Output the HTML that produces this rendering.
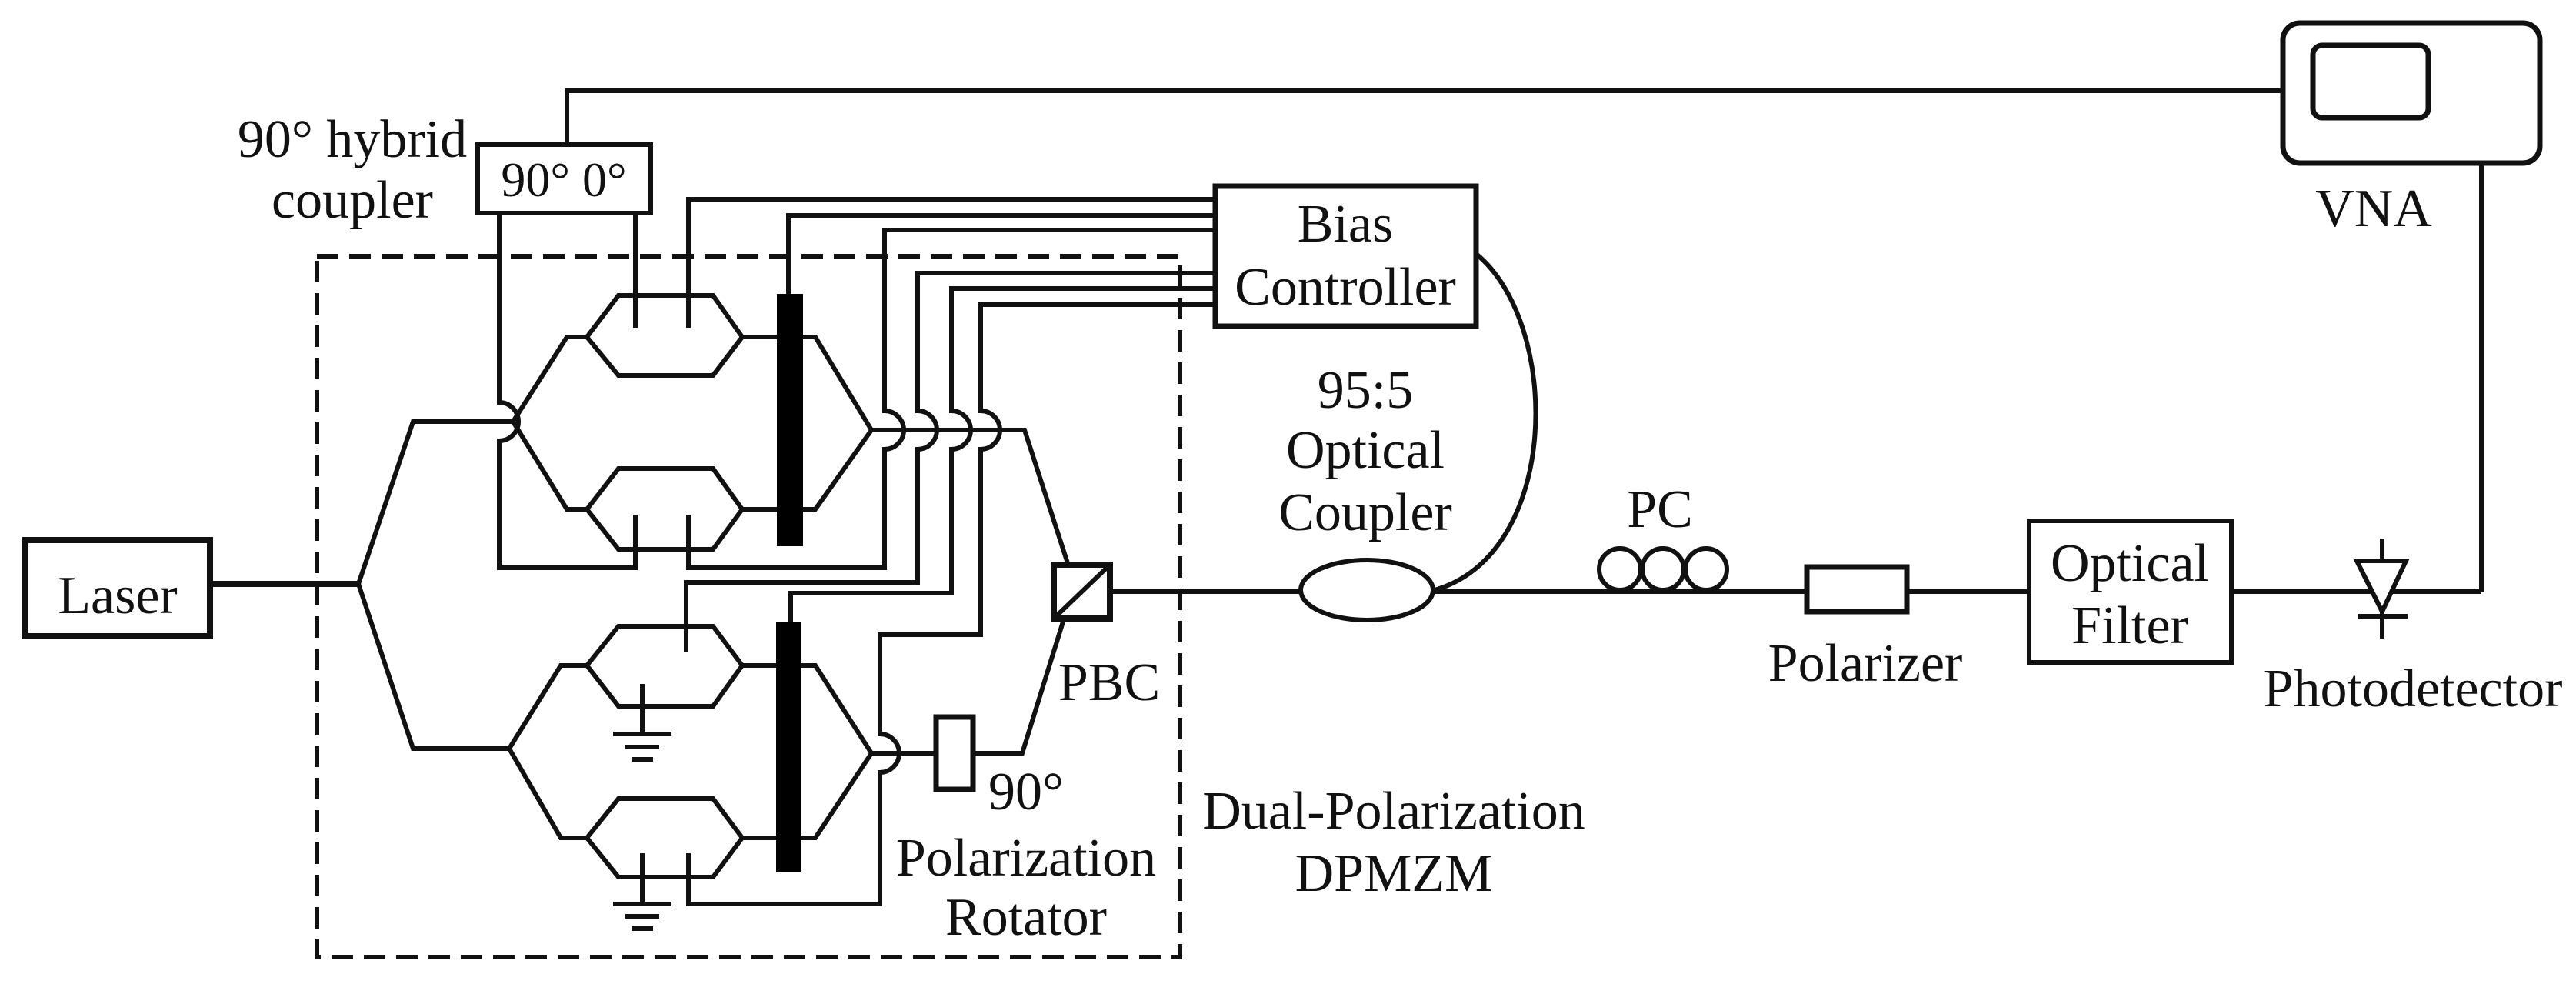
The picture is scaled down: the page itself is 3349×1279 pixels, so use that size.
<!DOCTYPE html>
<html><head><meta charset="utf-8"><style>
html,body{margin:0;padding:0;background:#fff;}
svg{display:block;}
svg text{font-family:"Liberation Serif","Times New Roman","DejaVu Serif",serif;font-size:70px;fill:#111;}
</style></head><body>
<svg width="3349" height="1279" viewBox="0 0 3349 1279" xmlns="http://www.w3.org/2000/svg" font-family="Liberation Serif, Times New Roman, DejaVu Serif, serif">
<g fill="none" stroke="#111" stroke-width="6" stroke-linejoin="miter">
<rect x="412" y="333" width="1122" height="911" stroke-dasharray="28,14" stroke-width="6"/>
<rect x="33" y="702" width="240" height="125" stroke-width="8"/>
<line x1="273" y1="759" x2="466" y2="759" stroke-width="8"/>
<polyline points="466,759 537,548 667,548"/>
<polyline points="466,759 537,973 662,973"/>
<polyline points="667,548 737,438 763,438"/>
<polyline points="667,548 737,662 763,662"/>
<polygon points="763,438 804,384 927,384 965,438 927,488 804,488"/>
<polygon points="763,662 804,609 927,609 965,662 927,714 804,714"/>
<line x1="965" y1="438" x2="1010" y2="438"/>
<line x1="965" y1="662" x2="1010" y2="662"/>
<polyline points="1044,438 1060,438 1133,559 1060,662 1044,662"/>
<polyline points="1133,559 1332,559 1388,732"/>
<polyline points="662,973 729,865 763,865"/>
<polyline points="662,973 729,1089 763,1089"/>
<polygon points="763,865 804,814 927,814 965,865 927,918 804,918"/>
<polygon points="763,1089 804,1038 927,1038 965,1089 927,1140 804,1140"/>
<line x1="965" y1="865" x2="1009" y2="865"/>
<line x1="965" y1="1089" x2="1009" y2="1089"/>
<polyline points="1041,865 1060,865 1133,979 1060,1089 1041,1089"/>
<line x1="1133" y1="979" x2="1215" y2="979"/>
<polyline points="1265,979 1329,979 1383,805"/>
<rect x="1217" y="932" width="48" height="94" stroke-width="7"/>
<rect x="1370" y="734" width="73" height="70" stroke-width="8"/>
<line x1="1372" y1="802" x2="1441" y2="736"/>
<line x1="1443" y1="769" x2="1691" y2="769"/>
<rect x="621" y="188" width="225" height="89"/>
<polyline points="737,188 737,118 2968,118"/>
<path d="M649,277 L649,523 A25,25 0 0 1 649,573 L649,738 L826,738 L826,669"/>
<line x1="826" y1="277" x2="826" y2="426"/>
<polyline points="1578,259 895,259 895,426"/>
<polyline points="1578,280 1025,280 1025,382"/>
<path d="M1578,299 L1150,299 L1150,534 A25,25 0 0 1 1150,584 L1150,738 L895,738 L895,669"/>
<path d="M1578,355 L1193,355 L1193,534 A25,25 0 0 1 1193,584 L1193,757 L892,757 L892,848"/>
<path d="M1578,375 L1237,375 L1237,534 A25,25 0 0 1 1237,584 L1237,771 L1028,771 L1028,808"/>
<path d="M1578,396 L1275,396 L1275,534 A25,25 0 0 1 1275,584 L1275,825 L1144,825 L1144,954 A25,25 0 0 1 1144,1004 L1144,1175 L895,1175 L895,1109"/>
<line x1="835" y1="889" x2="835" y2="954"/>
<line x1="797" y1="954" x2="873" y2="954"/>
<line x1="813" y1="971" x2="857" y2="971"/>
<line x1="821" y1="987" x2="849" y2="987"/>
<line x1="835" y1="1109" x2="835" y2="1175"/>
<line x1="797" y1="1175" x2="873" y2="1175"/>
<line x1="813" y1="1191" x2="857" y2="1191"/>
<line x1="821" y1="1207" x2="849" y2="1207"/>
<rect x="1580" y="242" width="339" height="182" stroke-width="7"/>
<path d="M1919,330 C2030,420 2030,720 1865,767"/>
<ellipse cx="1777" cy="767" rx="86" ry="39"/>
<line x1="1863" y1="769" x2="3226" y2="769"/>
<circle cx="2106" cy="740" r="27"/>
<circle cx="2162" cy="740" r="27"/>
<circle cx="2218" cy="740" r="27"/>
<rect x="2349" y="737" width="130" height="58" fill="#fff" stroke-width="7"/>
<rect x="2638" y="677" width="263" height="184" fill="#fff"/>
<polygon points="3064,729 3128,729 3097,795" fill="#fff"/>
<line x1="3097" y1="700" x2="3097" y2="729"/>
<line x1="3097" y1="795" x2="3097" y2="830"/>
<line x1="3065" y1="801" x2="3130" y2="801"/>
<polyline points="3226,769 3226,212"/>
<rect x="2968" y="30" width="334" height="182" rx="22" stroke-width="7"/>
<rect x="3007" y="59" width="150" height="94" rx="12" stroke-width="7"/>
</g>
<rect x="1010" y="382" width="34" height="328" fill="#000"/>
<rect x="1009" y="808" width="32" height="326" fill="#000"/>
<g font-family="Liberation Serif, Times New Roman, DejaVu Serif, serif" font-size="70" fill="#111">
<text x="153" y="797" text-anchor="middle">Laser</text>
<text x="458" y="204" text-anchor="middle">90° hybrid</text>
<text x="458" y="283" text-anchor="middle">coupler</text>
<text x="733" y="255" text-anchor="middle" style="font-size:64px">90° 0°</text>
<text x="1749" y="314" text-anchor="middle">Bias</text>
<text x="1749" y="396" text-anchor="middle">Controller</text>
<text x="1775" y="530" text-anchor="middle">95:5</text>
<text x="1775" y="608" text-anchor="middle">Optical</text>
<text x="1775" y="689" text-anchor="middle">Coupler</text>
<text x="2158" y="685" text-anchor="middle">PC</text>
<text x="2425" y="885" text-anchor="middle">Polarizer</text>
<text x="2769" y="755" text-anchor="middle">Optical</text>
<text x="2769" y="836" text-anchor="middle">Filter</text>
<text x="3137" y="918" text-anchor="middle">Photodetector</text>
<text x="3086" y="294" text-anchor="middle">VNA</text>
<text x="1442" y="910" text-anchor="middle">PBC</text>
<text x="1334" y="1052" text-anchor="middle">90°</text>
<text x="1334" y="1138" text-anchor="middle">Polarization</text>
<text x="1334" y="1215" text-anchor="middle">Rotator</text>
<text x="1812" y="1077" text-anchor="middle">Dual-Polarization</text>
<text x="1812" y="1158" text-anchor="middle">DPMZM</text>
</g>
</svg>
</body></html>
